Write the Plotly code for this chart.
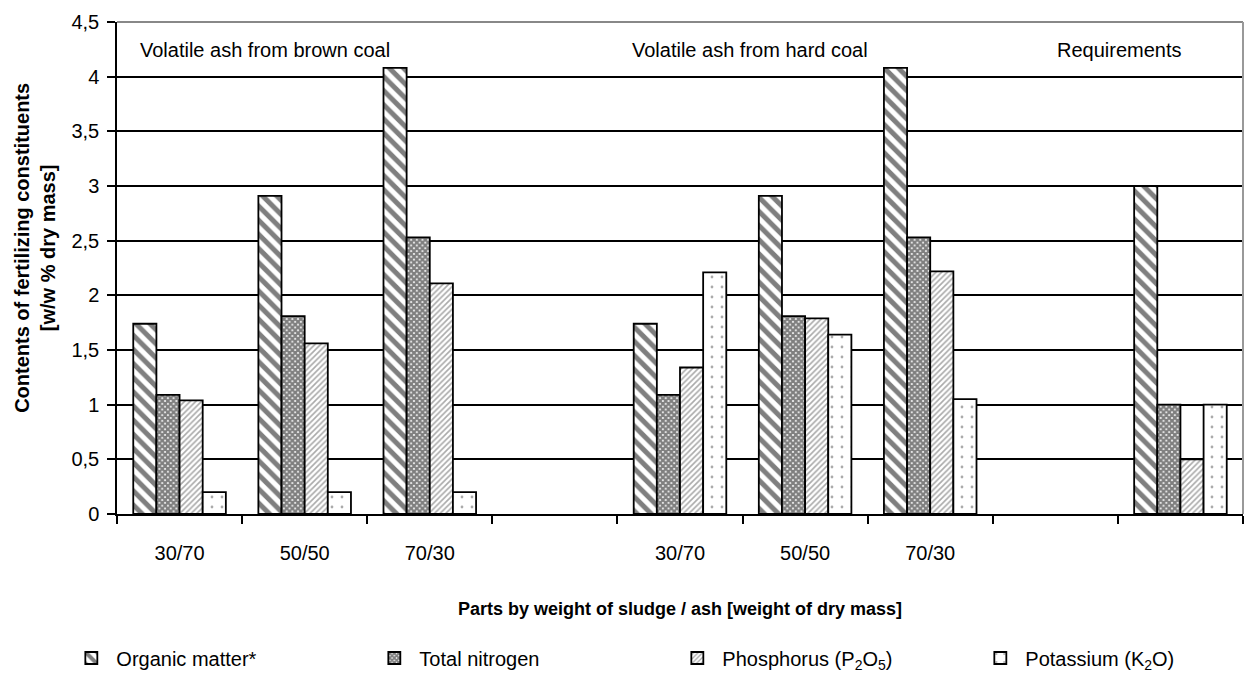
import plotly.graph_objects as go

categories = ["30/70", "50/50", "70/30", "", "30/70", "50/50", "70/30", "", ""]
organic = [1.74, 2.91, 4.08, None, 1.74, 2.91, 4.08, None, 3.0]
nitrogen = [1.09, 1.81, 2.53, None, 1.09, 1.81, 2.53, None, 1.0]
phosphorus = [1.04, 1.56, 2.11, None, 1.34, 1.79, 2.22, None, 0.5]
potassium = [0.2, 0.2, 0.2, None, 2.21, 1.64, 1.05, None, 1.0]
series_names = ["Organic matter*", "Total nitrogen",
                "Phosphorus (P<sub>2</sub>O<sub>5</sub>)", "Potassium (K<sub>2</sub>O)"]
y_tick_vals = [0, 0.5, 1, 1.5, 2, 2.5, 3, 3.5, 4, 4.5]
y_tick_text = ["0", "0,5", "1", "1,5", "2", "2,5", "3", "3,5", "4", "4,5"]
group_labels = ["Volatile ash from brown coal", "Volatile ash from hard coal", "Requirements"]

FONT = "Liberation Sans, Arial, sans-serif"
x_pos = list(range(len(categories)))

patterns = [
    dict(shape="\\", size=10, solidity=0.5, fgcolor="black", bgcolor="white"),
    dict(shape="x", size=4, solidity=0.8, fgcolor="black", bgcolor="white"),
    dict(shape="/", size=4, solidity=0.4, fgcolor="#555", bgcolor="white"),
    dict(shape=".", size=10, solidity=0.06, fgcolor="#555", bgcolor="white"),
]

fig = go.Figure()
for name, vals, pat in zip(series_names, [organic, nitrogen, phosphorus, potassium], patterns):
    fig.add_trace(go.Bar(
        x=x_pos, y=vals, name=name,
        marker=dict(color="white", pattern=pat, line=dict(color="black", width=1.8)),
    ))

fig.update_layout(
    width=1260, height=673,
    margin=dict(l=109, r=25, t=14, b=167, autoexpand=False),
    paper_bgcolor="white", plot_bgcolor="white",
    font=dict(family=FONT, size=20, color="black"),
    barmode="group", bargap=0.26, bargroupgap=0,
    showlegend=True,
    legend=dict(orientation="h", x=-0.045, xanchor="left", y=-0.2927, yanchor="middle",
                entrywidth=248, font=dict(size=20), itemwidth=40, traceorder="normal"),
    xaxis=dict(
        automargin=False,
        range=[-0.5, len(categories) - 0.5],
        tickvals=x_pos, ticktext=categories, ticks="",
        ticklabelstandoff=20,
        tickfont=dict(size=20),
        showgrid=False, zeroline=False,
        showline=True, linecolor="black", linewidth=1.5,
        minor=dict(tick0=0.5, dtick=1, ticks="outside", ticklen=8, tickwidth=1.5,
                   tickcolor="black", showgrid=False),
        title=dict(text="<b>Parts by weight of sludge / ash [weight of dry mass]</b>",
                   font=dict(size=18), standoff=40),
    ),
    yaxis=dict(
        automargin=False,
        range=[0, 4.5], tickvals=y_tick_vals, ticktext=y_tick_text,
        ticks="outside", ticklen=8, tickwidth=1.5, tickcolor="black",
        ticklabelstandoff=4,
        tickfont=dict(size=20),
        showgrid=True, gridcolor="black", gridwidth=1.5,
        zeroline=False, showline=True, linecolor="black", linewidth=1.5,
    ),
)

# gray top and right frame
fig.add_shape(type="line", xref="paper", yref="paper", x0=0, x1=1, y0=1, y1=1,
              line=dict(color="#888", width=2), layer="above")
fig.add_shape(type="line", xref="paper", yref="paper", x0=1, x1=1, y0=0, y1=1,
              line=dict(color="#999", width=2), layer="above")

for txt, xp in zip(group_labels, [0.0187, 0.4556, 0.833]):
    fig.add_annotation(text=txt, xref="paper", yref="y", x=xp, y=4.24,
                       xanchor="left", yanchor="middle", showarrow=False,
                       font=dict(size=20))

fig.add_annotation(text="<b>Contents of fertilizing constituents<br>[w/w % dry mass]</b>",
                   xref="paper", yref="paper", x=-0.0728, y=0.541, textangle=-90,
                   xanchor="center", yanchor="middle", showarrow=False,
                   font=dict(size=20))

fig.write_html("out.html")
